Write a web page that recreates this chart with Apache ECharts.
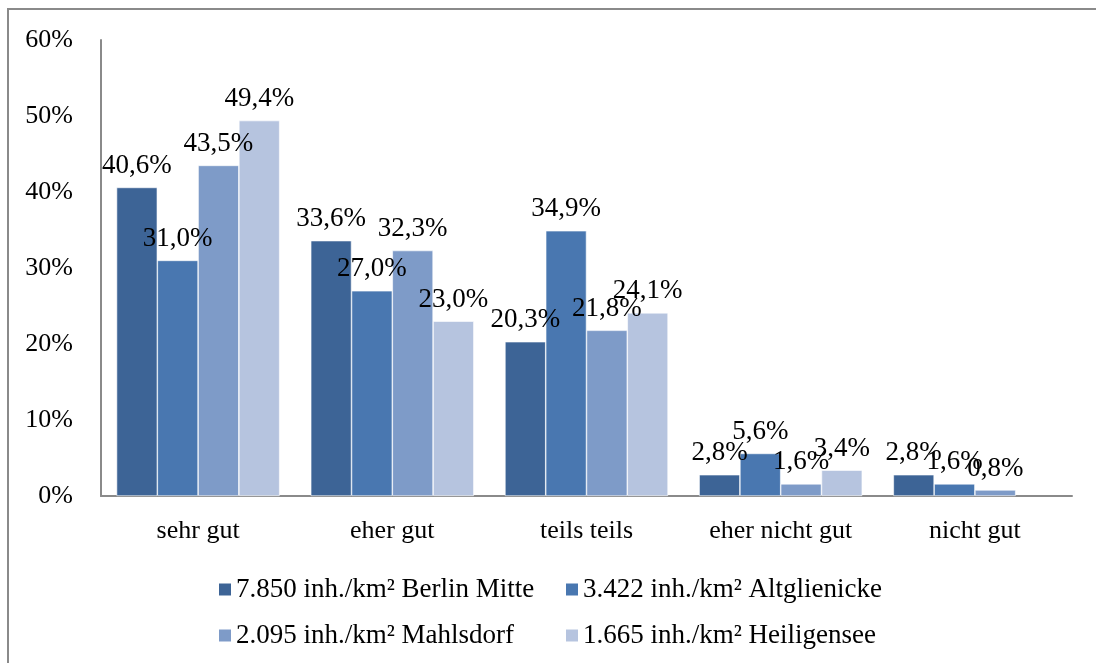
<!DOCTYPE html>
<html>
<head>
<meta charset="utf-8">
<script src="https://cdn.jsdelivr.net/npm/echarts@6/dist/echarts.min.js"></script>
<style>
  html, body { margin: 0; padding: 0; background: #fff; }
  #main { width: 1096px; height: 663px; }
</style>
</head>
<body>
<div id="main"></div>
<script>
// Kategorien und Werte (in %)
var categories = ['sehr gut', 'eher gut', 'teils teils', 'eher nicht gut', 'nicht gut'];
var seriesNames = [
  '7.850 inh./km² Berlin Mitte',
  '3.422 inh./km² Altglienicke',
  '2.095 inh./km² Mahlsdorf',
  '1.665 inh./km² Heiligensee'
];
var berlinMitte = [40.6, 33.6, 20.3, 2.8, 2.8];
var altglienicke = [31.0, 27.0, 34.9, 5.6, 1.6];
var mahlsdorf = [43.5, 32.3, 21.8, 1.6, 0.8];
var heiligensee = [49.4, 23.0, 24.1, 3.4, null];
var yTicks = [0, 10, 20, 30, 40, 50, 60];

var colors = ['#3d6496', '#4977b0', '#7e9bc8', '#b6c4df'];
var font = '"Liberation Serif", "Times New Roman", serif';
var values = [berlinMitte, altglienicke, mahlsdorf, heiligensee];

var chart = echarts.init(document.getElementById('main'));

var series = values.map(function (arr, i) {
  return {
    name: seriesNames[i],
    type: 'bar',
    data: arr,
    barGap: '0%',
    barCategoryGap: '16%',
    itemStyle: { color: colors[i], borderColor: '#ffffff', borderWidth: 0.6 },
    label: {
      show: true,
      position: 'top',
      distance: 8,
      fontFamily: font,
      fontSize: 27,
      color: '#000',
      formatter: function (p) {
        return p.value.toFixed(1).replace('.', ',') + '%';
      }
    }
  };
});

// Legende: je Eintrag eine eigene Legende, damit die Spalten fluchten
var legendPos = [[217, 576], [564, 576], [217, 622], [564, 622]];
var legends = seriesNames.map(function (n, i) {
  return {
    data: [n],
    left: legendPos[i][0],
    top: legendPos[i][1],
    padding: 0,
    icon: 'rect',
    itemWidth: 14,
    itemHeight: 14,
    itemGap: 0,
    textStyle: { fontFamily: font, fontSize: 27, color: '#000', padding: [0, 0, 0, -1] }
  };
});

chart.setOption({
  animation: false,
  color: colors,
  graphic: [{
    type: 'rect',
    shape: { x: 8, y: 9, width: 1200, height: 800 },
    style: { fill: 'none', stroke: '#8a8a8a', lineWidth: 2 },
    silent: true
  }],
  legend: legends,
  grid: { left: 101, right: 24, top: 40, bottom: 167, containLabel: false },
  xAxis: {
    type: 'category',
    data: categories,
    axisLine: { lineStyle: { color: '#8a8a8a', width: 2 } },
    axisTick: { show: false },
    axisLabel: { fontFamily: font, fontSize: 26, color: '#000', margin: 22 }
  },
  yAxis: {
    type: 'value',
    min: yTicks[0],
    max: yTicks[yTicks.length - 1],
    interval: 10,
    axisLine: { show: true, lineStyle: { color: '#8a8a8a', width: 2 } },
    axisTick: { show: false },
    splitLine: { show: false },
    axisLabel: { fontFamily: font, fontSize: 26, color: '#000', margin: 28, formatter: '{value}%' }
  },
  series: series
});
</script>
</body>
</html>
